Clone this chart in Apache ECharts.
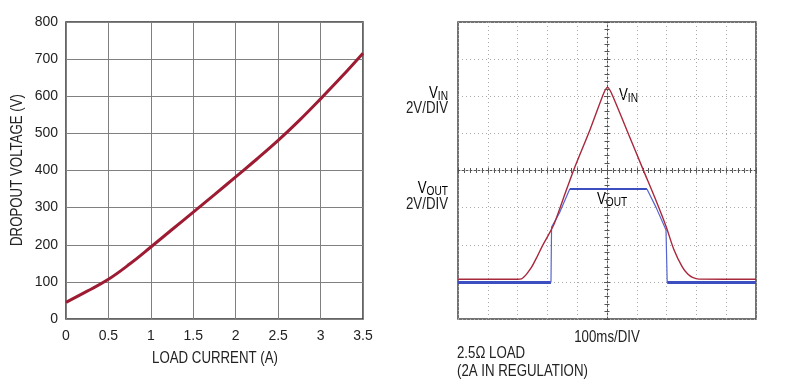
<!DOCTYPE html>
<html><head><meta charset="utf-8">
<script src="https://cdn.jsdelivr.net/npm/echarts@6/dist/echarts.min.js"></script>
<style>html,body{margin:0;padding:0;background:#fff}#c{width:800px;height:384px}</style>
</head><body><div id="c"></div>
<script>
// ---- Left chart: dropout voltage vs load current ----
const loadCurrent = [0, 0.25, 0.5, 0.75, 1, 1.25, 1.5, 1.75, 2, 2.25, 2.5, 2.75, 3, 3.25, 3.5];
const dropoutVoltage = [45, 75, 107, 148, 194, 241, 288, 335, 383, 431, 481, 535, 593, 653, 716];

// ---- Right chart: scope trace (x in ms, y in divisions from centre) ----
const vinTrace = [[-500,-2.93],[-300,-2.93],[-287,-2.92],[-279,-2.87],[-268,-2.77],[-252,-2.59],[-235,-2.33],[-218,-2.05],[-179,-1.47],[-145,-0.72],[-112,0.01],[-56,1.12],[-10,2.1],[2,2.24],[14,2.1],[66,1.1],[123,-0.01],[160,-0.72],[198,-1.5],[224,-2.12],[252,-2.59],[271,-2.79],[287,-2.88],[309,-2.925],[500,-2.93]];
const voutLowLeft = [[-500,-3.02],[-188,-3.02]];
const voutRise = [[-188,-3.02],[-186,-1.52],[-160,-1.15],[-125,-0.5]];
const voutTop = [[-125,-0.5],[134,-0.5]];
const voutFall = [[134,-0.5],[165,-1.0],[198,-1.6],[202,-3.02]];
const voutLowRight = [[202,-3.02],[500,-3.02]];

const FONT = "'Liberation Sans',Arial,sans-serif";
const SX = 0.78; // condensed look
const FS = 17;
const TXT = '#222';
const chart = echarts.init(document.getElementById('c'));

const centreTick = {show:true, inside:true, length:3, lineStyle:{color:'#555', width:1}};
const centreMinor = {show:true, splitNumber:5, length:2.5, lineStyle:{color:'#555', width:1}};

function sub(main, s) { return '{v|' + main + '}{s|' + s + '}'; }
const richSub = {
  v:{fontFamily:FONT, fontSize:17, lineHeight:19, color:TXT},
  s:{fontFamily:FONT, fontSize:13, lineHeight:15, verticalAlign:'bottom', color:TXT}
};
function label(x, y, text, align) {
  return {type:'text', x:x, y:y, scaleX:SX,
    style:{text:text, font:FS + 'px ' + FONT, fill:TXT, textAlign:align, textVerticalAlign:'middle'}};
}
function subLabel(x, y, main, s, align) {
  return {type:'text', x:x, y:y, scaleX:SX,
    style:{text:sub(main, s), rich:richSub, textAlign:align, textVerticalAlign:'middle'}};
}

chart.setOption({
  animation:false,
  textStyle:{fontFamily:FONT},
  grid:[
    {left:66, top:22, width:297, height:297, show:true, borderColor:'#333', borderWidth:1.5, outerBoundsMode:'none'},
    {left:458, top:22, width:298, height:297, show:true, borderColor:'#444', borderWidth:1.5, outerBoundsMode:'none'}
  ],
  xAxis:[
    {gridIndex:0, type:'value', min:0, max:3.5, interval:0.5,
     axisLine:{show:false}, axisTick:{show:false},
     axisLabel:{fontFamily:FONT, fontSize:14, color:TXT, margin:10},
     splitLine:{lineStyle:{color:'#808080', width:1}}},
    {gridIndex:1, type:'value', min:-500, max:500, interval:100,
     axisLine:{show:true, onZero:true, onZeroAxisIndex:1, lineStyle:{color:'#555', width:1, type:[2,2]}},
     axisTick:centreTick, minorTick:centreMinor,
     axisLabel:{show:false},
     splitLine:{show:true, lineStyle:{color:'#aaa', width:1, type:[1,3]}}},
    {gridIndex:1, type:'value', position:'top', min:-500, max:500, interval:100,
     axisLine:{show:false, onZero:true, onZeroAxisIndex:1},
     axisTick:centreTick, minorTick:centreMinor,
     axisLabel:{show:false}, splitLine:{show:false}}
  ],
  yAxis:[
    {gridIndex:0, type:'value', min:0, max:800, interval:100,
     axisLine:{show:false}, axisTick:{show:false},
     axisLabel:{fontFamily:FONT, fontSize:14, color:TXT, margin:8},
     splitLine:{lineStyle:{color:'#808080', width:1}}},
    {gridIndex:1, type:'value', min:-4, max:4, interval:1,
     axisLine:{show:true, onZero:true, onZeroAxisIndex:1, lineStyle:{color:'#555', width:1, type:[2,2]}},
     axisTick:centreTick, minorTick:centreMinor,
     axisLabel:{show:false},
     splitLine:{show:true, lineStyle:{color:'#aaa', width:1, type:[1,3]}}},
    {gridIndex:1, type:'value', position:'right', min:-4, max:4, interval:1,
     axisLine:{show:false, onZero:true, onZeroAxisIndex:1},
     axisTick:centreTick, minorTick:centreMinor,
     axisLabel:{show:false}, splitLine:{show:false}}
  ],
  series:[
    {type:'line', xAxisIndex:0, yAxisIndex:0, data:loadCurrent.map((x,i)=>[x,dropoutVoltage[i]]),
     smooth:0.4, symbol:'none', lineStyle:{color:'#9d1c33', width:3}},
    {type:'line', xAxisIndex:1, yAxisIndex:1, data:voutLowLeft, symbol:'none', lineStyle:{color:'#3d4ec0', width:3}},
    {type:'line', xAxisIndex:1, yAxisIndex:1, data:voutRise, symbol:'none', lineStyle:{color:'#5564d0', width:1.2}},
    {type:'line', xAxisIndex:1, yAxisIndex:1, data:voutTop, symbol:'none', lineStyle:{color:'#3d4ec0', width:2}},
    {type:'line', xAxisIndex:1, yAxisIndex:1, data:voutFall, symbol:'none', lineStyle:{color:'#5564d0', width:1.2}},
    {type:'line', xAxisIndex:1, yAxisIndex:1, data:voutLowRight, symbol:'none', lineStyle:{color:'#3d4ec0', width:3}},
    {type:'line', xAxisIndex:1, yAxisIndex:1, data:vinTrace, smooth:0.25, symbol:'none', lineStyle:{color:'#a8283c', width:1.4}}
  ],
  graphic:[
    label(215, 358, 'LOAD CURRENT (A)', 'center'),
    {type:'text', x:17, y:170, rotation:Math.PI/2, scaleX:SX,
     style:{text:'DROPOUT VOLTAGE (V)', font:FS + 'px ' + FONT, fill:TXT, textAlign:'center', textVerticalAlign:'middle'}},
    subLabel(448, 93, 'V', 'IN', 'right'),
    label(448, 108, '2V/DIV', 'right'),
    subLabel(448, 188, 'V', 'OUT', 'right'),
    label(448, 204, '2V/DIV', 'right'),
    subLabel(619, 95, 'V', 'IN', 'left'),
    subLabel(597, 199, 'V', 'OUT', 'left'),
    label(607, 337, '100ms/DIV', 'center'),
    label(457, 353, '2.5\u03A9 LOAD', 'left'),
    label(457, 371, '(2A IN REGULATION)', 'left')
  ]
});
</script></body></html>
